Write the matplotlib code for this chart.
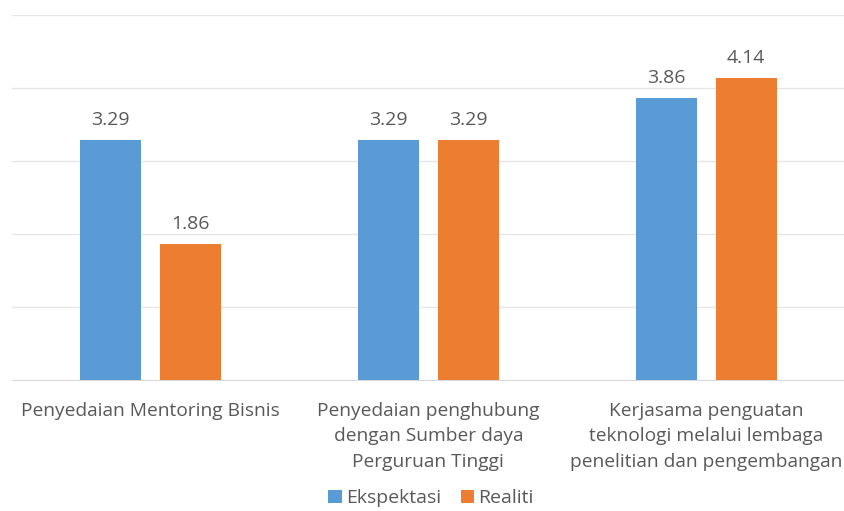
import matplotlib.pyplot as plt
import numpy as np

# kategori dan nilai
kategori = ["Penyedaian Mentoring Bisnis",
            "Penyedaian penghubung\ndengan Sumber daya\nPerguruan Tinggi",
            "Kerjasama penguatan\nteknologi melalui lembaga\npenelitian dan pengembangan"]
ekspektasi = [3.29, 3.29, 3.86]
realiti = [1.86, 3.29, 4.14]

biru = "#5B9BD5"
oren = "#ED7D31"
abu = "#595959"

plt.rcParams['font.family'] = ['Open Sans', 'DejaVu Sans']

fig = plt.figure(figsize=(8.45, 5.11), dpi=100)
ax = fig.add_axes([0.014, 0.2564, 0.986, 0.7142])

x = np.arange(len(kategori))
lebar = 0.22
geser = 0.144

b1 = ax.bar(x - geser, ekspektasi, lebar, color=biru, label="Ekspektasi", zorder=3)
b2 = ax.bar(x + geser, realiti, lebar, color=oren, label="Realiti", zorder=3)

# label nilai di atas batang
for batang in (b1, b2):
    for b in batang:
        ax.text(b.get_x() + b.get_width() / 2, b.get_height() + 0.15,
                f"{b.get_height():.2f}", ha="center", va="bottom",
                fontsize=14, color=abu)

ax.set_xlim(-0.5, 2.5)
ax.set_ylim(0, 5)
ax.set_yticks([1, 2, 3, 4, 5])
ax.yaxis.grid(True, color="#e6e6e6", linewidth=1, zorder=0)
ax.tick_params(left=False, labelleft=False, bottom=False)
for s in ["top", "right", "left"]:
    ax.spines[s].set_visible(False)
ax.spines["bottom"].set_color("#d9d9d9")

ax.set_xticks(x)
ax.set_xticklabels(kategori, fontsize=13.8, color=abu, linespacing=1.55)
ax.tick_params(axis="x", pad=12)

leg = fig.legend(handles=[b1, b2], loc="center", bbox_to_anchor=(0.51, 0.025),
                 ncol=2, frameon=False, fontsize=14, handlelength=0.7, handleheight=0.7,
                 handletextpad=0.2, columnspacing=1.0)
for t in leg.get_texts():
    t.set_color(abu)

fig.savefig("out.png", dpi=100)
